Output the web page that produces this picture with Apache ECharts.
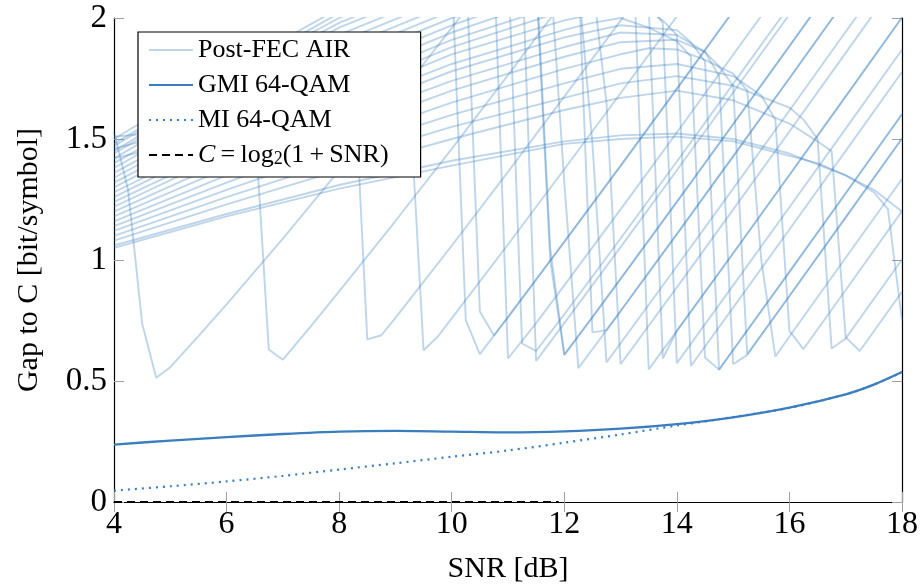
<!DOCTYPE html>
<html><head><meta charset="utf-8">
<script src="https://cdn.jsdelivr.net/npm/echarts@6/dist/echarts.min.js"></script>
<style>html,body{margin:0;padding:0;background:#fff}#chart{width:922px;height:588px}</style>
</head><body><div id="chart"></div>
<script>
// ---- tick values ----
const xTicks = [4, 6, 8, 10, 12, 14, 16, 18];
const yTicks = [0, 0.5, 1, 1.5, 2];

// ---- GMI / MI / capacity gap ----
const gmiSNR = [4, 5, 6, 7, 8, 9, 10, 11, 12, 13, 14, 15, 16, 17, 17.5, 18];
const gmiGap = [0.237, 0.254, 0.268, 0.281, 0.291, 0.294, 0.291, 0.288, 0.292, 0.303, 0.322, 0.350, 0.390, 0.445, 0.485, 0.537];
const miGap  = [0.047, 0.065, 0.085, 0.108, 0.134, 0.160, 0.187, 0.213, 0.245, 0.279, 0.316, 0.351, 0.389, 0.445, 0.485, 0.537];
const capacitySNR = [4, 11.9];
const capacityGap = [0, 0];

// ---- Post-FEC AIR curves ([SNR dB, gap]) ----
const airCurve01 = [[4,1.53],[4.25,1.29],[4.5,0.738],[4.75,0.513],[5,0.557],[5.5,0.685],[6,0.817],[7,1.088],[8,1.37],[9,1.661],[10,1.959],[10.5,2.111]];
const airCurve02 = [[4,1.51],[5,1.53],[6,1.56],[6.5,1.58],[6.75,0.63],[7,0.588],[7.5,0.727],[8,0.87],[9,1.161],[10,1.459],[11,1.764],[12,2.075]];
const airCurve03 = [[4,1.46],[6,1.58],[7,1.68],[8,1.79],[8.25,1.85],[8.5,0.672],[8.75,0.689],[9,0.761],[10,1.059],[11,1.364],[12,1.675],[13,1.989],[13.5,2.148]];
const airCurve04 = [[4,1.42],[6,1.53],[8,1.62],[9,1.66],[9.25,1.68],[9.5,0.627],[9.75,0.683],[10,0.759],[11,1.064],[12,1.375],[13,1.689],[14,2.007]];
const airCurve05 = [[4,1.50],[6,1.78],[8,2.04],[10,2.2],[10.25,0.752],[10.5,0.611],[11,0.764],[12,1.075],[13,1.389],[14,1.707],[15,2.028]];
const airCurve06 = [[4,1.48],[6,1.76],[8,2.02],[10,2.2],[10.25,2.25],[10.5,0.787],[10.75,0.688],[11,0.764],[12,1.075],[13,1.389],[14,1.707],[15,2.028]];
const airCurve07 = [[4,1.47],[6,1.75],[8,2.0],[10,2.2],[10.75,2.25],[11,0.593],[11.5,0.739],[12,0.895],[13,1.209],[14,1.527],[15,1.848],[15.5,2.009]];
const airCurve08 = [[4,1.45],[6,1.73],[8,1.98],[10,2.17],[11,2.25],[11.25,0.655],[11.5,0.624],[12,0.775],[13,1.089],[14,1.407],[15,1.728],[16,2.051]];
const airCurve09 = [[4,1.44],[6,1.71],[8,1.96],[10,2.15],[11.25,2.25],[11.5,0.583],[12,0.739],[13,1.053],[14,1.371],[15,1.692],[16,2.015]];
const airCurve10 = [[4,1.42],[6,1.69],[8,1.93],[10,2.12],[11.5,2.2],[11.75,1.05],[12,0.608],[12.5,0.764],[13,0.922],[14,1.24],[15,1.561],[16,1.884],[16.5,2.046]];
const airCurve11 = [[4,1.40],[6,1.66],[8,1.90],[10,2.09],[11.5,2.15],[11.75,1.0],[12,0.608],[12.5,0.764],[13,0.922],[14,1.24],[15,1.561],[16,1.884],[16.5,2.046]];
const airCurve12 = [[4,1.38],[6,1.64],[8,1.87],[10,2.06],[11.75,2.2],[12,1.32],[12.25,0.553],[12.5,0.631],[13,0.789],[14,1.107],[15,1.428],[16,1.751],[17,2.076]];
const airCurve13 = [[4,1.36],[6,1.61],[8,1.84],[10,2.03],[12,2.18],[12.25,2.2],[12.5,0.701],[12.75,0.71],[13,0.789],[14,1.107],[15,1.428],[16,1.751],[17,2.076]];
const airCurve14 = [[4,1.34],[6,1.59],[8,1.81],[10,2.0],[12,2.15],[12.25,2.15],[12.5,1.48],[12.75,0.577],[13,0.656],[14,0.974],[15,1.295],[16,1.618],[17,1.943],[17.5,2.106]];
const airCurve15 = [[4,1.32],[6,1.56],[8,1.78],[10,1.97],[12,2.13],[12.5,2.15],[12.75,1.65],[13,0.569],[14,0.887],[15,1.208],[16,1.531],[17,1.856],[17.5,2.019]];
const airCurve16 = [[4,1.30],[6,1.54],[8,1.75],[10,1.94],[12,2.10],[13,2.12],[13.25,2.10],[13.5,0.548],[14,0.707],[15,1.028],[16,1.351],[17,1.676],[18,2.002]];
const airCurve17 = [[4,1.28],[6,1.51],[8,1.72],[10,1.91],[12,2.06],[13,2.10],[13.5,2.05],[13.75,0.593],[14,0.707],[15,1.028],[16,1.351],[17,1.676],[18,2.002]];
const airCurve18 = [[4,1.26],[6,1.49],[8,1.69],[10,1.88],[12,2.03],[13,2.08],[13.5,2.05],[13.75,1.98],[14,0.574],[15,0.895],[16,1.218],[17,1.543],[18,1.869]];
const airCurve19 = [[4,1.24],[6,1.46],[8,1.66],[10,1.85],[12,1.99],[13,2.04],[13.5,2.03],[13.75,1.99],[14,1.93],[14.25,0.562],[15,0.803],[16,1.126],[17,1.451],[18,1.777]];
const airCurve20 = [[4,1.22],[6,1.44],[8,1.63],[10,1.81],[12,1.951],[12.5,1.98],[13,2.0],[13.5,1.96],[14,1.903],[14.25,1.84],[14.5,0.597],[14.75,0.547],[15,0.628],[16,0.951],[17,1.276],[18,1.602]];
const airCurve21 = [[4,1.20],[6,1.41],[8,1.60],[10,1.78],[12,1.92],[13,1.97],[14,1.95],[14.25,1.90],[14.5,1.82],[14.75,0.547],[15,0.628],[16,0.951],[17,1.276],[18,1.602]];
const airCurve22 = [[4,1.18],[6,1.38],[8,1.57],[10,1.74],[12,1.88],[13,1.94],[14,1.93],[14.5,1.86],[14.75,1.76],[15,0.569],[15.25,0.608],[16,0.851],[17,1.176],[18,1.502]];
const airCurve23 = [[4,1.16],[6,1.35],[8,1.53],[10,1.70],[12,1.84],[13,1.90],[14,1.91],[14.5,1.86],[14.75,1.80],[15,1.72],[15.25,0.611],[16,0.851],[17,1.176],[18,1.502]];
const airCurve24 = [[4,1.14],[6,1.32],[8,1.49],[10,1.65],[12,1.79],[13,1.85],[13.5,1.875],[14,1.87],[14.5,1.827],[15,1.77],[15.25,1.70],[15.5,1.0],[15.75,0.601],[16,0.684],[17,1.009],[18,1.335]];
const airCurve25 = [[4,1.12],[6,1.29],[8,1.45],[10,1.60],[12,1.73],[13,1.79],[14,1.81],[15,1.76],[15.5,1.68],[15.75,1.58],[16,0.707],[16.25,0.632],[17,0.876],[18,1.202]];
const airCurve26 = [[4,1.10],[6,1.26],[8,1.41],[10,1.55],[12,1.67],[13,1.73],[14,1.76],[15,1.72],[16,1.63],[16.25,1.58],[16.5,1.50],[16.75,0.634],[17,0.676],[18,1.002]];
const airCurve27 = [[4,1.08],[6,1.23],[8,1.37],[10,1.50],[12,1.62],[13,1.67],[14,1.70],[15,1.66],[16,1.564],[16.5,1.49],[16.75,1.45],[17,0.68],[17.25,0.624],[18,0.869]];
const airCurve28 = [[4,1.05],[6,1.18],[8,1.295],[10,1.39],[12,1.48],[13,1.50],[14,1.51],[15,1.49],[16,1.43],[16.5,1.40],[17,1.35],[17.5,1.28],[17.75,1.21],[18,0.75]];
const airCurve29 = [[4,1.06],[6,1.19],[8,1.31],[10,1.41],[12,1.49],[13,1.515],[14,1.523],[15,1.50],[16,1.44],[17,1.35],[17.5,1.29],[18,1.20]];

const airCurves = [airCurve01, airCurve02, airCurve03, airCurve04, airCurve05, airCurve06, airCurve07, airCurve08, airCurve09, airCurve10,
  airCurve11, airCurve12, airCurve13, airCurve14, airCurve15, airCurve16, airCurve17, airCurve18, airCurve19, airCurve20,
  airCurve21, airCurve22, airCurve23, airCurve24, airCurve25, airCurve26, airCurve27, airCurve28, airCurve29];

const FONT = '"Liberation Serif", "Times New Roman", serif';
const BLUE = '#3a7ebf';

const series = airCurves.map(d => ({
  type: 'line', name: 'Post-FEC AIR', data: d, symbol: 'none', silent: true, z: 2,
  color: BLUE, itemStyle: {color: BLUE},
  lineStyle: {color: BLUE, width: 1.9, opacity: 0.33}
}));
series.push({
  type: 'line', name: 'GMI 64-QAM', data: gmiSNR.map((x, i) => [x, gmiGap[i]]), smooth: 0.3,
  symbol: 'none', z: 5, color: BLUE, itemStyle: {color: BLUE}, lineStyle: {color: BLUE, width: 2.3}
});
series.push({
  type: 'line', name: 'MI 64-QAM', data: gmiSNR.map((x, i) => [x, miGap[i]]), smooth: 0.3,
  symbol: 'none', z: 5, color: BLUE, itemStyle: {color: BLUE}, lineStyle: {color: BLUE, width: 2.2, type: [2, 5]}
});
series.push({
  type: 'line', name: 'capacity', data: capacitySNR.map((x, i) => [x, capacityGap[i]]),
  symbol: 'none', z: 6, color: '#000', itemStyle: {color: '#000'}, lineStyle: {color: '#000', width: 2, type: [8, 5]}
});

const axisCommon = {
  type: 'value',
  axisLine: {show: true, lineStyle: {color: '#000', width: 1.2}},
  axisTick: {show: true, inside: true, length: 10, lineStyle: {color: '#a0a0a0', width: 1}},
  splitLine: {show: false}
};
const xRange = {min: xTicks[0], max: xTicks[xTicks.length - 1], interval: xTicks[1] - xTicks[0]};
const yRange = {min: yTicks[0], max: yTicks[yTicks.length - 1], interval: yTicks[1] - yTicks[0]};

const chart = echarts.init(document.getElementById('chart'));
chart.setOption({
  animation: false,
  backgroundColor: '#fff',
  grid: {left: 114, top: 18, right: 20, bottom: 86, outerBoundsMode: 'none'},
  xAxis: [
    Object.assign({}, axisCommon, xRange, {
      position: 'bottom',
      axisLabel: {color: '#000', fontFamily: FONT, fontSize: 32, margin: 7},
      name: 'SNR [dB]', nameLocation: 'middle', nameGap: 52,
      nameTextStyle: {color: '#000', fontFamily: FONT, fontSize: 30}
    }),
    Object.assign({}, axisCommon, xRange, {position: 'top', axisLabel: {show: false}})
  ],
  yAxis: [
    Object.assign({}, axisCommon, yRange, {
      position: 'left',
      axisLabel: {color: '#000', fontFamily: FONT, fontSize: 33, margin: 7},
      name: 'Gap to C [bit/symbol]', nameLocation: 'middle', nameGap: 70, nameRotate: 90,
      nameTextStyle: {color: '#000', fontFamily: FONT, fontSize: 30}
    }),
    Object.assign({}, axisCommon, yRange, {position: 'right', axisLabel: {show: false}})
  ],
  legend: {
    data: ['Post-FEC AIR', 'GMI 64-QAM', 'MI 64-QAM', 'capacity'],
    orient: 'vertical', left: 138, top: 32,
    backgroundColor: '#fff', borderColor: '#000', borderWidth: 1.2, borderRadius: 0,
    padding: [5, 32, 9, 10], itemGap: 9, itemWidth: 44, itemHeight: 14,
    selectedMode: false,
    itemStyle: {opacity: 0},
    textStyle: {
      fontFamily: FONT, fontSize: 26, color: '#000', lineHeight: 26,
      rich: {
        it: {fontFamily: FONT, fontSize: 26, fontStyle: 'italic', color: '#000', lineHeight: 26},
        sub: {fontFamily: FONT, fontSize: 18, color: '#000', lineHeight: 8, verticalAlign: 'bottom'}
      }
    },
    formatter: n => n === 'capacity' ? '{it|C}\u2009=\u2009log{sub|2}(1\u2009+\u2009SNR)' : n
  },
  series: series
});
</script>
</body></html>
